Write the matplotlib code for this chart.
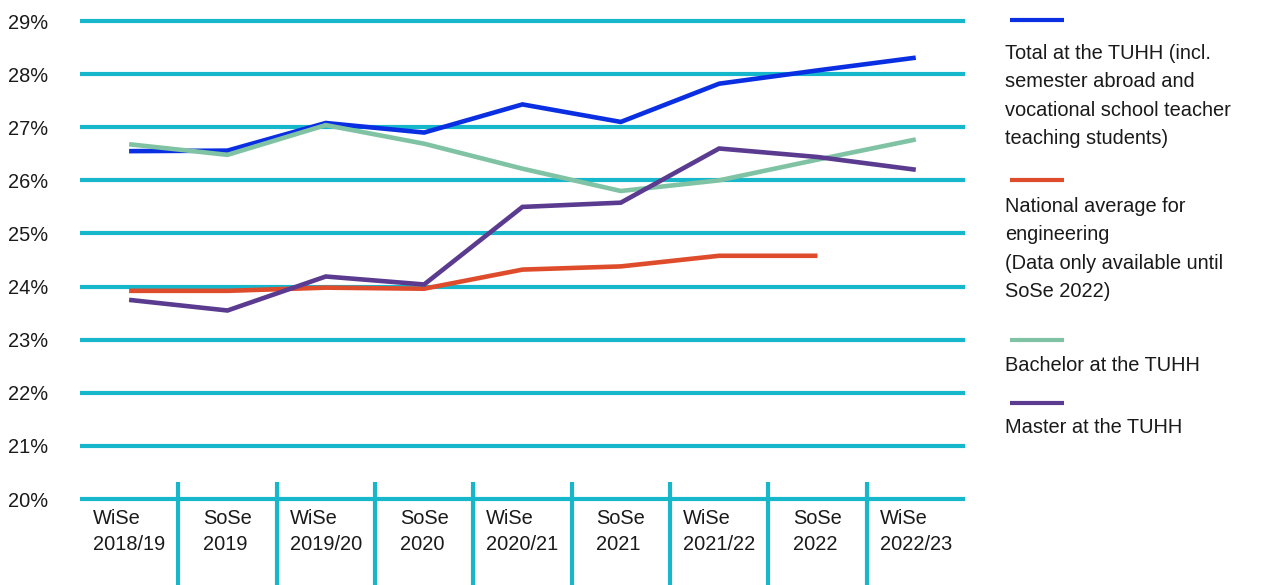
import matplotlib.pyplot as plt
from matplotlib.lines import Line2D

plt.rcParams['font.family'] = ['Liberation Sans', 'DejaVu Sans']

semesters = ["WiSe\n2018/19", "SoSe\n2019", "WiSe\n2019/20", "SoSe\n2020", "WiSe\n2020/21",
             "SoSe\n2021", "WiSe\n2021/22", "SoSe\n2022", "WiSe\n2022/23"]
total_tuhh = [26.55, 26.56, 27.08, 26.90, 27.43, 27.10, 27.82, 28.07, 28.31]
national_avg = [23.92, 23.92, 23.98, 23.96, 24.32, 24.38, 24.58, 24.58]  # only until SoSe 2022
bachelor_tuhh = [26.68, 26.48, 27.04, 26.69, 26.22, 25.80, 26.00, 26.39, 26.77]
master_tuhh = [23.75, 23.55, 24.19, 24.04, 25.50, 25.58, 26.60, 26.44, 26.20]
percent_ticks = [20, 21, 22, 23, 24, 25, 26, 27, 28, 29]

legend_labels = [
	"Total at the TUHH (incl.\nsemester abroad and\nvocational school teacher\nteaching students)",
	"National average for\nengineering\n(Data only available until\nSoSe 2022)",
	"Bachelor at the TUHH",
	"Master at the TUHH",
]
colors = ['#0a2fe3', '#de4c2c', '#7fc3a4', '#5a3b90']
grid_color = '#17b7cb'
text_color = '#1a1a1a'

fig = plt.figure(figsize=(12.67, 5.85), dpi=100)
ax = fig.add_axes([0.0631, 0.1333, 0.6985, 0.8444])

# horizontal grid lines
for p in percent_ticks:
	ax.axhline(p, color=grid_color, lw=3.0, zorder=1)

# separators between the semester columns
ax.vlines([i + 0.5 for i in range(len(semesters) - 1)], 18.3, 20.32,
          color=grid_color, lw=3.0, clip_on=False, zorder=1)

series = [total_tuhh, national_avg, bachelor_tuhh, master_tuhh]
for vals, c in zip(series, colors):
	ax.plot(range(len(vals)), vals, color=c, lw=3.3, solid_capstyle='butt',
	        solid_joinstyle='miter', zorder=3)

ax.set_xlim(-0.5, len(semesters) - 0.5)
ax.set_ylim(19.85, 29.15)
ax.set_yticks(percent_ticks, [f"{p}%" for p in percent_ticks])
ax.set_xticks(range(len(semesters)), semesters)
for lbl in ax.get_xticklabels():
	lbl.set_multialignment('left')
	lbl.set_linespacing(1.45)
ax.tick_params(axis='y', length=0, pad=23, labelsize=14.4, labelcolor=text_color)
ax.tick_params(axis='x', length=0, pad=1.5, labelsize=14.4, labelcolor=text_color)
for s in ax.spines.values():
	s.set_visible(False)

# hand-made legend on the right
handle_y = [20, 180, 340, 403]
text_y = [44, 197, 356, 418]
for lbl, c, hy, ty in zip(legend_labels, colors, handle_y, text_y):
	fig.add_artist(Line2D([1010 / 1267, 1064 / 1267], [1 - hy / 585, 1 - hy / 585],
	                      color=c, lw=3.0, solid_capstyle='butt'))
	fig.text(1005 / 1267, 1 - ty / 585, lbl, fontsize=14.4, color=text_color,
	         va='top', ha='left', linespacing=1.62)

fig.savefig('out.png', dpi=100)
